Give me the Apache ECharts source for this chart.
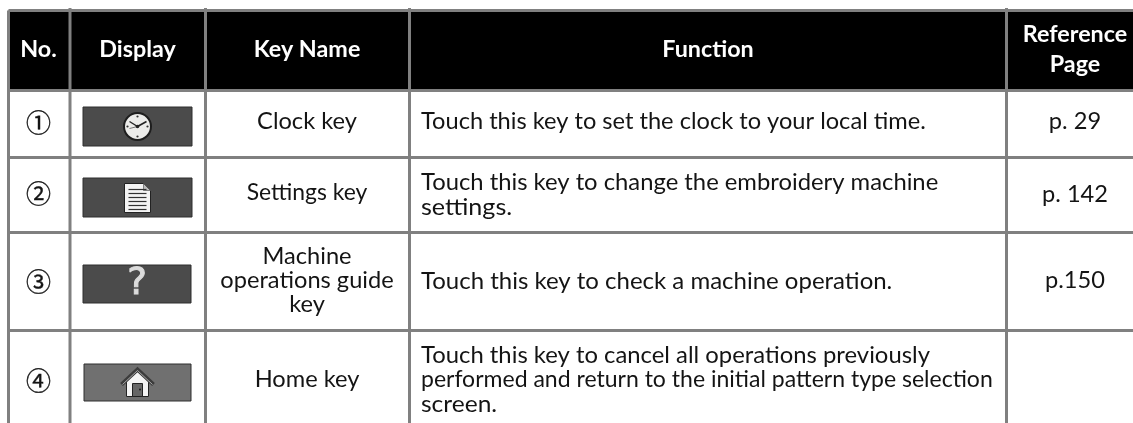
<!DOCTYPE html>
<html><head><meta charset="utf-8">
<style>html,body{margin:0;padding:0;background:#fff}#c{width:1133px;height:423px}</style>
<script src="https://cdn.jsdelivr.net/npm/echarts@6/dist/echarts.min.js"></script></head>
<body><div id="c"></div>
<script>
const headers = ['No.', 'Display', 'Key Name', 'Function', 'Reference\nPage'];
const numbers = ['①', '②', '③', '④'];
const icons = ['clock', 'settings', 'help', 'home'];
const keyNames = ['Clock key', 'Settings key', 'Machine\noperations guide\nkey', 'Home key'];
const functions = [
  ['Touch this key to set the clock to your local time.'],
  ['Touch this key to change the embroidery machine', 'settings.'],
  ['Touch this key to check a machine operation.'],
  ['Touch this key to cancel all operations previously', 'performed and return to the initial pattern type selection', 'screen.']
];
const pages = ['p. 29', 'p. 142', 'p.150', ''];

// layout (pixel scale of the hidden axes)
const W = 1133, H = 423;
const colRules = [8.5, 70, 205.5, 409.5, 1006.5];
const rowRules = [10.5, 90.5, 157.5, 232.5, 330.5];
const colCentres = [38.5, 137.5, 307, 708, 1075];
const funcLeft = 421;
const rowCentres = [122, 193, 281, 380];
const pageCentres = [122, 195, 281, 380];
const funcTops = [122, 183, 281.5, 355.5];
const buttons = [[83, 107, 109, 39], [83, 178, 109, 39], [83, 265, 108, 38], [84, 364, 107, 37]];
const funcStretch = [[1.05], [1.058, 1.115], [1.066], [1.06, 1.023, 1.09]];
const nameStretch = [1.05, 1.018, 1.05, 1.05];
const FONT = 'Lato';
const INK = '#141414', RULE = '#808080';
const BODY = 22.5, HEAD = 22, STRETCH = 1.05, PITCH = 24.5, headCentre = 50;

function textEl(api, s, x, y, o) {
  const p = api.coord([x, y]);
  return { type: 'text', x: p[0], y: p[1], scaleX: o.sx || STRETCH, style: {
    text: s, x: 0, y: 0, fill: o.fill || INK, align: o.align || 'center', verticalAlign: 'middle',
    stroke: o.stroke || null, lineWidth: o.lineWidth || 0,
    fontFamily: o.family || FONT, fontSize: o.size || BODY, fontWeight: o.weight || 'normal', lineHeight: o.lh || 24 } };
}
function rect(x, y, w, h, fill, stroke) {
  return { type: 'rect', shape: { x, y, width: w, height: h }, style: { fill, stroke: stroke || null, lineWidth: stroke ? 1 : 0 } };
}
function iconEl(kind, cx, cy) {
  const kids = [];
  if (kind === 'clock') {
    kids.push({ type: 'circle', shape: { cx: 0, cy: 0, r: 13.5 }, style: { fill: '#ececea', stroke: '#1e1e1e', lineWidth: 2 } });
    [[0, -10], [0, 10], [-10, 0], [10, 0]].forEach(d => kids.push({ type: 'circle', shape: { cx: d[0], cy: d[1], r: 1.1 }, style: { fill: '#333' } }));
    kids.push({ type: 'line', shape: { x1: 0, y1: 0, x2: 9, y2: -5 }, style: { stroke: '#222', lineWidth: 1.6 } });
    kids.push({ type: 'line', shape: { x1: 0, y1: 0, x2: -8, y2: -5 }, style: { stroke: '#222', lineWidth: 1.4 } });
    kids.push({ type: 'line', shape: { x1: 0, y1: 0, x2: -8, y2: 2 }, style: { stroke: '#777', lineWidth: 1 } });
    kids.push({ type: 'circle', shape: { cx: 0, cy: 0, r: 1.8 }, style: { fill: '#222' } });
  } else if (kind === 'settings') {
    kids.push({ type: 'polygon', shape: { points: [[-13, -14], [6, -14], [13, -7], [13, 15], [-13, 15]] }, style: { fill: '#f4f4f4', stroke: '#222', lineWidth: 1 } });
    kids.push({ type: 'polygon', shape: { points: [[6, -14], [13, -7], [6, -7]] }, style: { fill: '#bdbdbd', stroke: '#444', lineWidth: 0.6 } });
    [-8, -4, 0, 4, 8, 12].forEach(y => kids.push({ type: 'line', shape: { x1: -9, y1: y, x2: 9, y2: y }, style: { stroke: '#333', lineWidth: 1.2 } }));
  } else if (kind === 'help') {
    kids.push({ type: 'text', style: { text: '?', x: 0, y: 0, align: 'center', verticalAlign: 'middle', fontFamily: 'DejaVu Sans', fontSize: 37, fill: '#dcdcdc', stroke: '#dcdcdc', lineWidth: 1 } });
  } else {
    kids.push({ type: 'polygon', shape: { points: [[-11, -2], [0, -11], [11, -2], [11, 14], [-11, 14]] }, style: { fill: '#f4f4f4', stroke: '#222', lineWidth: 1 } });
    kids.push({ type: 'polyline', shape: { points: [[-16, 2], [0, -13], [16, 2]] }, style: { stroke: '#3c3c3c', lineWidth: 4, fill: null } });
    kids.push({ type: 'polyline', shape: { points: [[-15, 2], [0, -12], [15, 2]] }, style: { stroke: '#a8a8a8', lineWidth: 1, fill: null } });
    kids.push(rect(-5, 1, 10, 13, '#666', '#222'));
    kids.push({ type: 'circle', shape: { cx: 2.5, cy: 7, r: 0.9 }, style: { fill: '#111' } });
  }
  return { type: 'group', x: cx, y: cy, children: kids };
}

function renderHeader(params, api) {
  const o = api.coord([colRules[0], rowRules[0]]), e = api.coord([W, rowRules[1]]);
  const kids = [rect(o[0], o[1], e[0] - o[0], e[1] - o[1], '#000')];
  headers.forEach((h, i) => {
    kids.push(textEl(api, h, colCentres[i], headCentre, { fill: '#fff', weight: 'bold', size: HEAD, lh: 30, sx: 1.06 }));
  });
  return { type: 'group', children: kids };
}
function renderRow(params, api) {
  const i = api.value(0);
  const cy = rowCentres[i];
  const b = buttons[i];
  const tl = api.coord([b[0], b[1]]);
  const kids = [
    textEl(api, numbers[i], colCentres[0], cy, { family: 'Noto Sans CJK JP', size: 25, sx: 1, stroke: INK, lineWidth: 0.35 }),
    rect(tl[0], tl[1], b[2], b[3], icons[i] === 'home' ? '#707070' : '#4b4b4b', '#2e2e2e'),
    iconEl(icons[i], tl[0] + b[2] / 2, tl[1] + b[3] / 2),
    textEl(api, keyNames[i], colCentres[2], cy, { sx: nameStretch[i] }),
    textEl(api, pages[i], colCentres[4], pageCentres[i], {})
  ];
  functions[i].forEach((ln, j) => kids.push(
    textEl(api, ln, funcLeft, funcTops[i] + j * PITCH, { align: 'left', sx: funcStretch[i][j] })));
  return { type: 'group', children: kids };
}
function renderRules(params, api) {
  const kids = [];
  const line = (x1, y1, x2, y2) => {
    const a = api.coord([x1, y1]), b = api.coord([x2, y2]);
    kids.push({ type: 'line', shape: { x1: a[0], y1: a[1], x2: b[0], y2: b[1] }, style: { stroke: RULE, lineWidth: 3 } });
  };
  colRules.forEach((x, i) => line(x, i === 0 ? rowRules[0] : 8, x, H));
  rowRules.forEach(y => line(colRules[0], y, W, y));
  return { type: 'group', children: kids };
}

const chart = echarts.init(document.getElementById('c'), null, { renderer: 'canvas' });
chart.setOption({
  animation: false,
  backgroundColor: '#fff',
  grid: { left: 0, right: 0, top: 0, bottom: 0 },
  xAxis: { type: 'value', min: 0, max: W, show: false },
  yAxis: { type: 'value', min: 0, max: H, inverse: true, show: false },
  series: [
    { type: 'custom', coordinateSystem: 'cartesian2d', renderItem: renderHeader, data: [[0]], silent: true, clip: false, z: 1 },
    { type: 'custom', coordinateSystem: 'cartesian2d', renderItem: renderRow, data: numbers.map((_, i) => [i]), silent: true, clip: false, z: 2 },
    { type: 'custom', coordinateSystem: 'cartesian2d', renderItem: renderRules, data: [[0]], silent: true, clip: false, z: 3 }
  ]
});
</script></body></html>
